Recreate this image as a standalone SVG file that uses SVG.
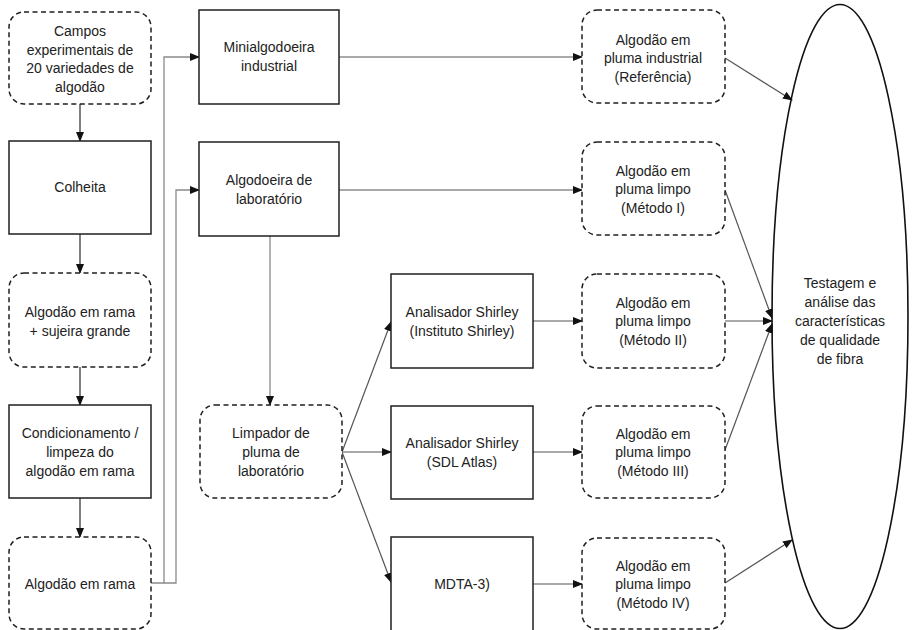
<svg xmlns="http://www.w3.org/2000/svg" width="915" height="630" viewBox="0 0 915 630">
<defs>
<style>
.box{fill:#fff;stroke:#1f1f1f;stroke-width:1.5}
.dash{fill:#fff;stroke:#1f1f1f;stroke-width:1.5;stroke-dasharray:5 3.5}
.t{font-family:"Liberation Sans",Arial,sans-serif;font-size:14px;fill:#222;text-anchor:middle}
.c{fill:none;stroke:#555;stroke-width:1.2}
.g{fill:none;stroke:#8a8a8a;stroke-width:1.3}
.k{fill:none;stroke:#2a2a2a;stroke-width:1.2}
</style>
<marker id="ah" markerWidth="10" markerHeight="8" refX="9" refY="4" orient="auto" markerUnits="userSpaceOnUse">
<path d="M0,0 L10,4 L0,8 Z" fill="#111"/>
</marker>
</defs>
<rect width="915" height="630" fill="#fff"/>

<g id="connectors">
<path class="k" d="M80,104 V141" marker-end="url(#ah)"/>
<path class="k" d="M80,234 V273" marker-end="url(#ah)"/>
<path class="k" d="M80,367 V405" marker-end="url(#ah)"/>
<path class="k" d="M80,498 V537" marker-end="url(#ah)"/>
<path class="g" d="M151,583 H164 V57 H199" marker-end="url(#ah)"/>
<path class="g" d="M164,583 H176 V190 H199" marker-end="url(#ah)"/>
<path class="c" d="M339,57 H582" marker-end="url(#ah)"/>
<path class="c" d="M339,190 H582" marker-end="url(#ah)"/>
<path class="g" d="M270,236 V405" marker-end="url(#ah)"/>
<path class="c" d="M342,452 L391,322" marker-end="url(#ah)"/>
<path class="c" d="M342,452 H391" marker-end="url(#ah)"/>
<path class="c" d="M342,452 L391,582" marker-end="url(#ah)"/>
<path class="c" d="M533,321 H582" marker-end="url(#ah)"/>
<path class="c" d="M533,452 H582" marker-end="url(#ah)"/>
<path class="c" d="M533,584 H582" marker-end="url(#ah)"/>
<path class="c" d="M725,58 L792,100" marker-end="url(#ah)"/>
<path class="c" d="M725,190 L772,318" marker-end="url(#ah)"/>
<path class="c" d="M725,321 H772" marker-end="url(#ah)"/>
<path class="c" d="M725,450 L772,324" marker-end="url(#ah)"/>
<path class="c" d="M725,583 L792,540" marker-end="url(#ah)"/>
</g>

<g id="campos">
<rect class="dash" x="9" y="12" width="142" height="92" rx="15"/>
<text class="t" x="80" y="36">Campos</text>
<text class="t" x="80" y="54.5">experimentais de</text>
<text class="t" x="80" y="73">20 variedades de</text>
<text class="t" x="80" y="91.5">algodão</text>
</g>
<g id="colheita">
<rect class="box" x="9" y="141" width="142" height="93"/>
<text class="t" x="80" y="192">Colheita</text>
</g>
<g id="rama-sujeira">
<rect class="dash" x="9" y="273" width="142" height="94" rx="15"/>
<text class="t" x="80" y="317">Algodão em rama</text>
<text class="t" x="80" y="336">+ sujeira grande</text>
</g>
<g id="condicionamento">
<rect class="box" x="9" y="405" width="142" height="93"/>
<text class="t" x="80" y="438">Condicionamento /</text>
<text class="t" x="80" y="457">limpeza do</text>
<text class="t" x="80" y="476">algodão em rama</text>
</g>
<g id="rama">
<rect class="dash" x="9" y="537" width="142" height="92" rx="15"/>
<text class="t" x="80" y="589">Algodão em rama</text>
</g>

<g id="minialgodoeira">
<rect class="box" x="199" y="10" width="140" height="94"/>
<text class="t" x="269" y="52">Minialgodoeira</text>
<text class="t" x="269" y="71">industrial</text>
</g>
<g id="algodoeira">
<rect class="box" x="199" y="142" width="140" height="94"/>
<text class="t" x="269" y="185">Algodoeira de</text>
<text class="t" x="269" y="204">laboratório</text>
</g>
<g id="limpador">
<rect class="dash" x="200" y="405" width="142" height="93" rx="15"/>
<text class="t" x="271" y="438">Limpador de</text>
<text class="t" x="271" y="457">pluma de</text>
<text class="t" x="271" y="476">laboratório</text>
</g>

<g id="shirley-instituto">
<rect class="box" x="391" y="274" width="142" height="94"/>
<text class="t" x="462" y="317">Analisador Shirley</text>
<text class="t" x="462" y="336">(Instituto Shirley)</text>
</g>
<g id="shirley-sdl">
<rect class="box" x="391" y="406" width="142" height="93"/>
<text class="t" x="462" y="448">Analisador Shirley</text>
<text class="t" x="462" y="467">(SDL Atlas)</text>
</g>
<g id="mdta">
<rect class="box" x="391" y="537" width="142" height="94"/>
<text class="t" x="462" y="589">MDTA-3)</text>
</g>

<g id="ref">
<rect class="dash" x="582" y="10" width="143" height="93" rx="15"/>
<text class="t" x="653" y="44.5">Algodão em</text>
<text class="t" x="653" y="63">pluma industrial</text>
<text class="t" x="653" y="81.5">(Referência)</text>
</g>
<g id="metodo1">
<rect class="dash" x="582" y="142" width="143" height="93" rx="15"/>
<text class="t" x="653" y="175.5">Algodão em</text>
<text class="t" x="653" y="194">pluma limpo</text>
<text class="t" x="653" y="212.5">(Método I)</text>
</g>
<g id="metodo2">
<rect class="dash" x="582" y="274" width="143" height="94" rx="15"/>
<text class="t" x="653" y="307.5">Algodão em</text>
<text class="t" x="653" y="326">pluma limpo</text>
<text class="t" x="653" y="344.5">(Método II)</text>
</g>
<g id="metodo3">
<rect class="dash" x="582" y="406" width="143" height="92" rx="15"/>
<text class="t" x="653" y="438.5">Algodão em</text>
<text class="t" x="653" y="457">pluma limpo</text>
<text class="t" x="653" y="475.5">(Método III)</text>
</g>
<g id="metodo4">
<rect class="dash" x="582" y="538" width="143" height="91" rx="15"/>
<text class="t" x="653" y="570.5">Algodão em</text>
<text class="t" x="653" y="589">pluma limpo</text>
<text class="t" x="653" y="607.5">(Método IV)</text>
</g>

<g id="testagem">
<ellipse cx="840" cy="316.5" rx="68" ry="312" fill="none" stroke="#111" stroke-width="1.6"/>
<text class="t" x="840" y="288">Testagem e</text>
<text class="t" x="840" y="307">análise das</text>
<text class="t" x="840" y="326">características</text>
<text class="t" x="840" y="345">de qualidade</text>
<text class="t" x="840" y="364">de fibra</text>
</g>
</svg>
